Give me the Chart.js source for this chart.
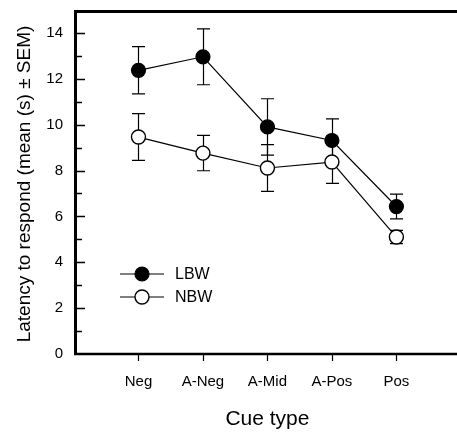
<!DOCTYPE html>
<html><head><meta charset="utf-8">
<script src="https://cdn.jsdelivr.net/npm/chart.js@4.4.0/dist/chart.umd.min.js"></script>
<style>html,body{margin:0;padding:0;background:#fff}canvas{display:block}</style>
</head><body>
<canvas id="c" width="457" height="433"></canvas>
<script>
const categories = ['Neg', 'A-Neg', 'A-Mid', 'A-Pos', 'Pos'];
const lbwMean = [12.37, 12.96, 9.90, 9.31, 6.43];
const lbwSem  = [1.03, 1.22, 1.23, 0.94, 0.54];
const nbwMean = [9.46, 8.76, 8.11, 8.37, 5.10];
const nbwSem  = [1.02, 0.77, 1.02, 0.93, 0.29];
const yLabelValues = [0, 2, 4, 6, 8, 10, 12, 14];
const seriesNames = ['LBW', 'NBW'];
const yTitle = 'Latency to respond (mean (s) \u00B1 SEM)';
const xTitle = 'Cue type';

const FONT = "'Liberation Sans', Arial, Helvetica, sans-serif";

const toPts = arr => arr.map((v, i) => ({x: i, y: v}));

const errorBars = {
  id: 'errorBars',
  beforeDatasetsDraw(chart) {
    const ctx = chart.ctx, xs = chart.scales.x, ys = chart.scales.y;
    ctx.save();
    ctx.strokeStyle = '#000';
    ctx.lineWidth = 1.2;
    chart.data.datasets.forEach(ds => {
      ds.data.forEach((p, i) => {
        const s = ds.sem[i];
        const x = Math.round(xs.getPixelForValue(p.x)) + 0.5;
        const y1 = ys.getPixelForValue(p.y + s), y2 = ys.getPixelForValue(p.y - s);
        ctx.beginPath();
        ctx.moveTo(x, y1); ctx.lineTo(x, y2);
        ctx.moveTo(x - 6.5, y1); ctx.lineTo(x + 6.5, y1);
        ctx.moveTo(x - 6.5, y2); ctx.lineTo(x + 6.5, y2);
        ctx.stroke();
      });
    });
    ctx.restore();
  }
};

const frame = {
  id: 'frame',
  afterDraw(chart) {
    const ctx = chart.ctx, a = chart.chartArea, xs = chart.scales.x, ys = chart.scales.y;
    ctx.save();
    ctx.strokeStyle = '#000';
    // spines
    ctx.lineWidth = 3;
    ctx.beginPath();
    ctx.moveTo(a.left + 1.5, a.top);
    ctx.lineTo(a.left + 1.5, a.bottom + 1);
    ctx.stroke();
    ctx.beginPath();
    ctx.moveTo(a.left, a.top + 1.5);
    ctx.lineTo(a.right, a.top + 1.5);
    ctx.stroke();
    ctx.lineWidth = 2.5;
    ctx.beginPath();
    ctx.moveTo(a.left, a.bottom);
    ctx.lineTo(a.right, a.bottom);
    ctx.stroke();
    // y ticks (inward)
    ctx.lineWidth = 1.5;
    for (let v = 1; v <= 14; v++) {
      const y = Math.round(ys.getPixelForValue(v)) + 0.5;
      const len = (v % 2 === 0) ? 11 : 8;
      ctx.beginPath();
      ctx.moveTo(a.left + 2, y); ctx.lineTo(a.left + len, y);
      ctx.stroke();
    }
    // x ticks (outward)
    ctx.lineWidth = 1.2;
    categories.forEach((c, i) => {
      const x = Math.round(xs.getPixelForValue(i)) + 0.5;
      ctx.beginPath();
      ctx.moveTo(x, a.bottom + 1); ctx.lineTo(x, a.bottom + 7);
      ctx.stroke();
    });
    // titles
    ctx.fillStyle = '#000';
    ctx.textAlign = 'center';
    ctx.textBaseline = 'middle';
    ctx.font = '21px ' + FONT;
    ctx.fillText(xTitle, xs.getPixelForValue((categories.length - 1) / 2), 419);
    ctx.save();
    ctx.translate(25, (a.top + a.bottom) / 2 + 2);
    ctx.rotate(-Math.PI / 2);
    ctx.font = '19px ' + FONT;
    ctx.fillText(yTitle, 0, 0);
    ctx.restore();
    // legend
    const lx = 120, lw = 44, ty = [274, 297];
    chart.data.datasets.forEach((ds, k) => {
      const y = ty[k];
      ctx.lineWidth = 1.2;
      ctx.strokeStyle = '#000';
      ctx.beginPath();
      ctx.moveTo(lx, y); ctx.lineTo(lx + lw, y);
      ctx.stroke();
      ctx.beginPath();
      ctx.arc(lx + lw / 2, y, ds.pointRadius, 0, Math.PI * 2);
      ctx.fillStyle = ds.pointBackgroundColor;
      ctx.fill();
      ctx.lineWidth = ds.pointBorderWidth;
      ctx.stroke();
      ctx.fillStyle = '#000';
      ctx.textAlign = 'left';
      ctx.font = '16px ' + FONT;
      ctx.fillText(ds.label, 175, y + 1);
    });
    ctx.restore();
  }
};

new Chart(document.getElementById('c'), {
  type: 'line',
  data: {
    datasets: [
      {label: seriesNames[0], data: toPts(lbwMean), sem: lbwSem,
       borderColor: '#000', borderWidth: 1.2, pointRadius: 7, pointBackgroundColor: '#000',
       pointBorderColor: '#000', pointBorderWidth: 1.2},
      {label: seriesNames[1], data: toPts(nbwMean), sem: nbwSem,
       borderColor: '#000', borderWidth: 1.2, pointRadius: 7, pointBackgroundColor: '#fff',
       pointBorderColor: '#000', pointBorderWidth: 1.4}
    ]
  },
  options: {
    responsive: false,
    animation: false,
    devicePixelRatio: 1,
    layout: {autoPadding: false, padding: {top: 10, right: 0, left: 0, bottom: 0}},
    plugins: {legend: {display: false}, tooltip: {enabled: false}},
    scales: {
      x: {
        type: 'linear', min: -1, max: 4.94,
        afterBuildTicks: s => { s.ticks = categories.map((c, i) => ({value: i})); },
        afterFit: s => { s.height = 79; s.paddingLeft = 0; s.paddingRight = 0; },
        grid: {display: false, drawTicks: false},
        border: {display: false},
        ticks: {callback: v => categories[v] ?? '', color: '#000', padding: 19,
                font: {family: FONT, size: 15}, maxRotation: 0, autoSkip: false}
      },
      y: {
        min: 0, max: 15,
        afterBuildTicks: s => { s.ticks = yLabelValues.map(v => ({value: v})); },
        afterFit: s => { s.width = 74; s.paddingTop = 0; s.paddingBottom = 0; },
        grid: {display: false, drawTicks: false},
        border: {display: false},
        ticks: {color: '#000', padding: 11, font: {family: FONT, size: 15}}
      }
    }
  },
  plugins: [errorBars, frame]
});
</script>
</body></html>
